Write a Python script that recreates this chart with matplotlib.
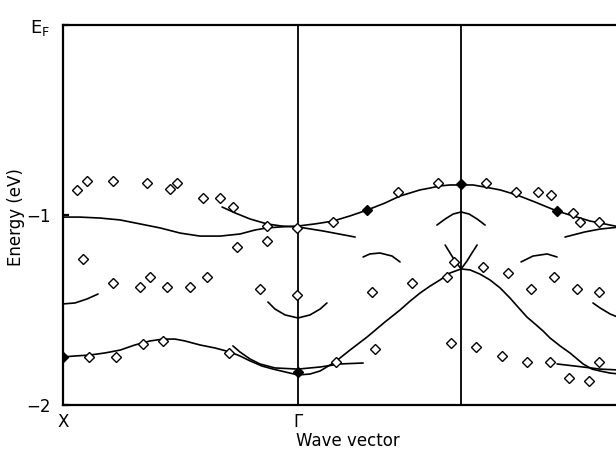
import matplotlib
matplotlib.use("Agg")
import matplotlib.pyplot as plt

# ---- symmetry points (wave-vector units) ----
k_X, k_G, k_M, k_end = 0.0, 1.0, 1.694, 2.370
tick_pos = [k_X, k_G, k_end]
tick_labels = ["X", "\u0393", "\u0393"]

# ---- calculated bands (k, E in eV) ----
bandA_k = [0.000, 0.072, 0.157, 0.243, 0.328, 0.413, 0.498, 0.583, 0.668, 0.753, 0.817, 0.868, 0.923,
           1.000, 1.072, 1.149, 1.221, 1.294, 1.370, 1.434, 1.477, 1.519, 1.562, 1.604, 1.647, 1.694,
           1.745, 1.796, 1.860, 1.932, 2.009, 2.060, 2.102, 2.157, 2.200, 2.243, 2.285, 2.328, 2.370]
bandA_E = [-1.011, -1.011, -1.016, -1.026, -1.047, -1.068, -1.095, -1.111, -1.111, -1.100, -1.079, -1.068, -1.063,
           -1.058, -1.047, -1.032, -1.005, -0.974, -0.937, -0.900, -0.884, -0.868, -0.858, -0.847, -0.842, -0.842,
           -0.842, -0.853, -0.868, -0.895, -0.932, -0.958, -0.979, -1.000, -1.016, -1.032, -1.042, -1.053, -1.063]

bandB_k = [0.677, 0.732, 0.796, 0.868, 0.930, 1.000, 1.106, 1.243]
bandB_E = [-0.958, -0.989, -1.021, -1.047, -1.058, -1.063, -1.084, -1.116]

bandC_k = [1.591, 1.626, 1.660, 1.694, 1.728, 1.762, 1.796]
bandC_E = [-1.053, -1.021, -0.995, -0.984, -0.995, -1.021, -1.053]

bandD_k = [1.626, 1.647, 1.668, 1.694, 1.719, 1.740, 1.762]
bandD_E = [-1.158, -1.200, -1.242, -1.284, -1.242, -1.200, -1.158]

bandE_k = [0.000, 0.051, 0.115, 0.179, 0.243, 0.306, 0.370, 0.426, 0.477, 0.519, 0.583, 0.647, 0.711,
           0.753, 0.796, 0.847, 0.894, 0.945, 1.000, 1.051, 1.094, 1.157, 1.221, 1.294, 1.370, 1.434,
           1.477, 1.519, 1.562, 1.604, 1.647, 1.694, 1.732, 1.774, 1.817, 1.860, 1.902, 1.932, 1.974,
           2.009, 2.043, 2.072, 2.115, 2.157, 2.213, 2.251, 2.285, 2.328, 2.370]
bandE_E = [-1.747, -1.742, -1.737, -1.726, -1.711, -1.684, -1.663, -1.653, -1.653, -1.663, -1.684, -1.700, -1.721,
           -1.742, -1.768, -1.795, -1.811, -1.826, -1.842, -1.837, -1.821, -1.774, -1.711, -1.642, -1.563, -1.500,
           -1.453, -1.411, -1.374, -1.342, -1.305, -1.284, -1.289, -1.311, -1.342, -1.384, -1.437, -1.479, -1.537,
           -1.574, -1.611, -1.647, -1.689, -1.726, -1.784, -1.811, -1.821, -1.832, -1.837]

bandF_k = [0.723, 0.753, 0.796, 0.838, 0.902, 1.000, 1.094, 1.179, 1.277]
bandF_E = [-1.689, -1.721, -1.758, -1.784, -1.805, -1.811, -1.800, -1.784, -1.779]

bandG_k = [0.872, 0.902, 0.945, 1.000, 1.051, 1.094, 1.123]
bandG_E = [-1.458, -1.495, -1.526, -1.542, -1.526, -1.495, -1.463]

bandH_k = [0.0, 0.051, 0.102, 0.149]
bandH_E = [-1.468, -1.463, -1.442, -1.416]

bandI_k = [1.277, 1.306, 1.349, 1.400, 1.434]
bandI_E = [-1.221, -1.205, -1.200, -1.216, -1.247]

bandJ_k = [1.949, 2.000, 2.060, 2.102]
bandJ_E = [-1.247, -1.216, -1.205, -1.221]

bandK_k = [2.136, 2.221, 2.285, 2.370]
bandK_E = [-1.116, -1.089, -1.074, -1.063]

bandL_k = [2.255, 2.285, 2.328, 2.370]
bandL_E = [-1.463, -1.489, -1.521, -1.542]

bandM_k = [2.102, 2.213, 2.285, 2.370]
bandM_E = [-1.784, -1.800, -1.811, -1.816]

# ---- experimental points (open diamonds) ----
exp_k = [0.060, 0.102, 0.213, 0.357, 0.455, 0.485, 0.596, 0.668, 0.723, 0.868, 0.996, 1.149,
         1.426, 1.596, 1.800, 1.928, 2.021, 2.077, 2.170, 2.200, 2.281,
         0.085, 0.740, 0.868, 0.213, 0.328, 0.370, 0.443, 0.540, 0.613, 0.838, 0.996, 1.315,
         1.485, 1.634, 1.664, 1.787, 1.894, 1.991, 2.089, 2.187, 2.281,
         0.111, 0.226, 0.340, 0.426, 0.706, 1.162, 1.328, 1.651, 1.757, 1.868, 1.974, 2.072,
         2.153, 2.238, 2.281]
exp_E = [-0.868, -0.821, -0.821, -0.832, -0.863, -0.832, -0.911, -0.911, -0.958, -1.058, -1.068, -1.037,
         -0.879, -0.832, -0.832, -0.879, -0.879, -0.895, -0.989, -1.037, -1.037,
         -1.232, -1.168, -1.137, -1.358, -1.379, -1.326, -1.379, -1.379, -1.326, -1.389, -1.421, -1.405,
         -1.358, -1.326, -1.247, -1.274, -1.305, -1.389, -1.326, -1.389, -1.405,
         -1.747, -1.747, -1.679, -1.663, -1.726, -1.774, -1.705, -1.674, -1.695, -1.742, -1.774, -1.774,
         -1.858, -1.874, -1.774]

# ---- filled points ----
fill_k = [0.0, 1.0, 1.294, 1.694, 2.102]
fill_E = [-1.747, -1.826, -0.974, -0.837, -0.979]

fig = plt.figure(figsize=(6.16, 4.51), dpi=100)
ax = fig.add_axes([63 / 616, 46 / 451, (620 - 63) / 616, (405 - 25) / 451])

bands = [(bandA_k, bandA_E), (bandB_k, bandB_E), (bandC_k, bandC_E), (bandD_k, bandD_E),
         (bandE_k, bandE_E), (bandF_k, bandF_E), (bandG_k, bandG_E), (bandH_k, bandH_E),
         (bandI_k, bandI_E), (bandJ_k, bandJ_E), (bandK_k, bandK_E), (bandL_k, bandL_E),
         (bandM_k, bandM_E)]
for bk, be in bands:
    ax.plot(bk, be, color="black", lw=1.2, solid_capstyle="round", solid_joinstyle="round")

for kv in [k_G, k_M]:
    ax.axvline(kv, color="black", lw=1.3)

ax.plot(exp_k, exp_E, linestyle="none", marker="D", ms=4.6, mfc="white", mec="black", mew=1.0)
ax.plot(fill_k, fill_E, linestyle="none", marker="D", ms=4.6, mfc="black", mec="black", mew=1.0)

ax.set_xlim(k_X, k_end)
ax.set_ylim(-2, 0)
for s in ax.spines.values():
    s.set_linewidth(1.6)

ax.set_xticks(tick_pos)
ax.set_xticklabels(tick_labels, fontsize=12)
ax.tick_params(axis="x", length=0, pad=6)

ax.set_yticks([0, -1, -2])
ax.set_yticklabels(["E$_\\mathrm{F}$", "\u22121", "\u22122"], fontsize=12)
ax.tick_params(axis="y", direction="in", length=4, width=1.6, pad=9)
ax.get_yticklabels()[0].set_fontsize(13)

fig.text(348 / 616, 1 - 441 / 451, "Wave vector", fontsize=12, ha="center", va="center")
fig.text(16 / 616, 1 - 217 / 451, "Energy (eV)", fontsize=12, ha="center", va="center", rotation=90)

fig.savefig("out.png", dpi=100)
